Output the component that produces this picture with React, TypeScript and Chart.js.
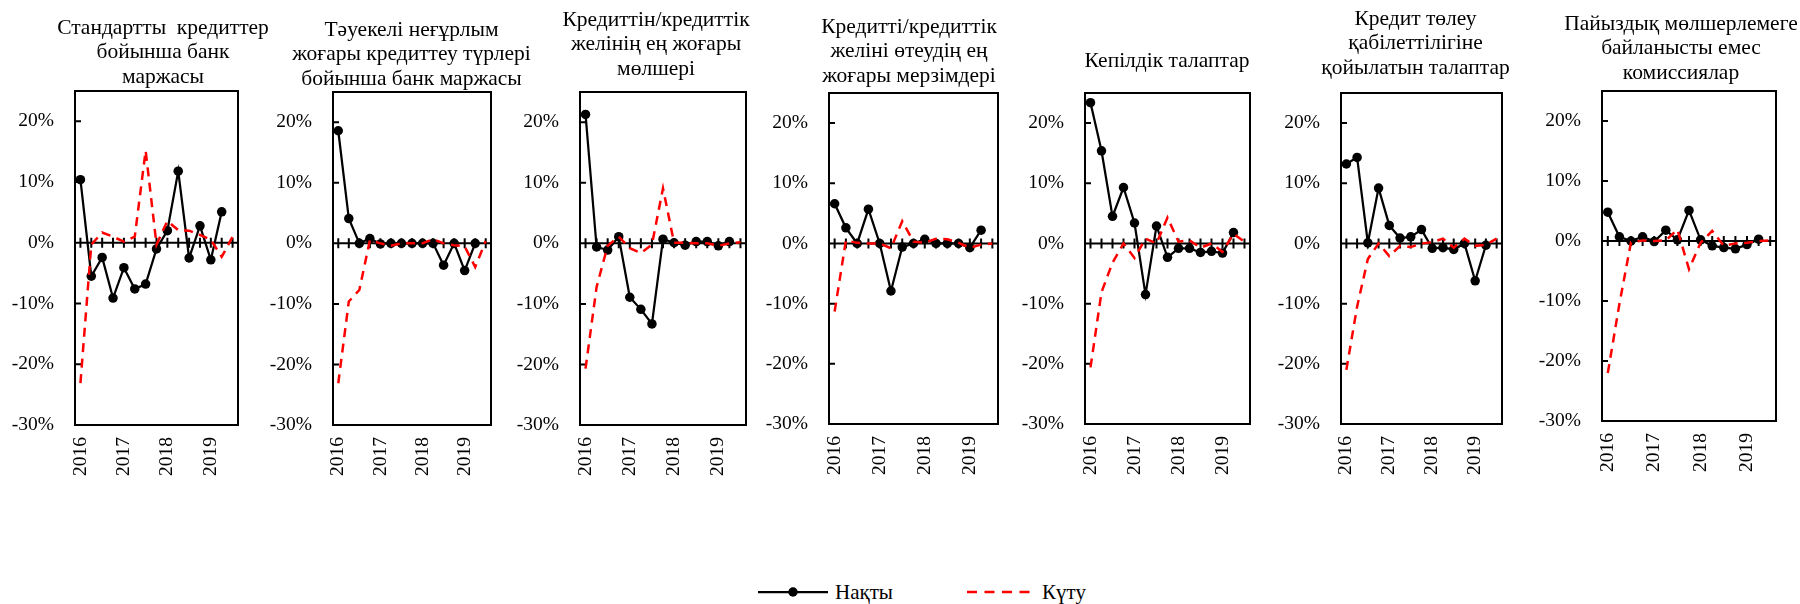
import React, { useEffect, useRef } from 'react';
import { Chart, registerables } from 'chart.js';

Chart.register(...registerables);

// ---------- data ----------
const CATEGORIES = ['2016', '', '', '', '2017', '', '', '', '2018', '', '', '', '2019', '', ''];
const Y_TICKS = [-30, -20, -10, 0, 10, 20];

const TITLE_1 = ['Стандартты  кредиттер', 'бойынша банк', 'маржасы'];
const TITLE_2 = ['Тәуекелі неғұрлым', 'жоғары кредиттеу түрлері', 'бойынша банк маржасы'];
const TITLE_3 = ['Кредиттін/кредиттік', 'желінің ең жоғары', 'мөлшері'];
const TITLE_4 = ['Кредитті/кредиттік', 'желіні өтеудің ең', 'жоғары мерзімдері'];
const TITLE_5 = ['Кепілдік талаптар'];
const TITLE_6 = ['Кредит төлеу', 'қабілеттілігіне', 'қойылатын талаптар'];
const TITLE_7 = ['Пайыздық мөлшерлемеге', 'байланысты емес', 'комиссиялар'];

const ACTUAL_1 = [10.4, -5.5, -2.4, -9.1, -4.1, -7.6, -6.8, -1.0, 2.0, 11.8, -2.5, 2.8, -2.8, 5.1];
const EXPECTED_1 = [-23.1, -0.3, 1.7, 1.0, 0.2, 1.0, 15.2, -0.3, 3.6, 2.1, 2.0, 1.3, 0.5, -2.3, 1.0];

const ACTUAL_2 = [18.6, 4.1, 0, 0.8, -0.1, 0, 0, 0, 0, 0, -3.6, 0, -4.5, 0];
const EXPECTED_2 = [-23.1, -9.6, -7.7, 0.5, 0, -0.4, 0, 0, 0, 0.7, 0, -0.3, -0.5, -3.9, 0.4];

const ACTUAL_3 = [21.3, -0.6, -1.1, 1.1, -8.9, -10.9, -13.3, 0.7, 0.1, -0.3, 0.3, 0.3, -0.4, 0.3];
const EXPECTED_3 = [-20.7, -7.2, -0.4, 1.1, -0.8, -1.6, -0.2, 9.1, 0.1, 0.1, 0, 0, -0.4, 0, 0.2];

const ACTUAL_4 = [6.6, 2.6, 0, 5.7, 0, -7.9, -0.6, 0, 0.7, 0, 0, 0, -0.7, 2.2];
const EXPECTED_4 = [-11.3, 0.5, 0.1, 0, 0, -0.8, 3.7, 0.3, 0.1, 0.8, 0.7, 0.1, -0.7, -0.2, 0];

const ACTUAL_5 = [23.4, 15.4, 4.5, 9.3, 3.4, -8.5, 2.9, -2.3, -0.8, -0.8, -1.5, -1.3, -1.6, 1.8];
const EXPECTED_5 = [-20.6, -8.1, -3.2, 0, -2.4, 0.8, 0, 4.3, 0.3, 0.5, -0.7, 0, -1.4, 1.6, 0.3];

const ACTUAL_6 = [13.2, 14.3, 0.1, 9.2, 3.0, 0.9, 1.1, 2.3, -0.8, -0.7, -1.0, 0, -6.2, -0.3];
const EXPECTED_6 = [-21.0, -10.5, -2.6, 0, -2.1, -0.4, -0.6, 0, 0.2, 0.8, -0.7, 0.8, -0.4, -0.2, 0.8];

const ACTUAL_7 = [4.8, 0.7, 0, 0.7, -0.1, 1.8, 0.2, 5.1, 0.2, -0.8, -1.1, -1.3, -0.6, 0.3];
const EXPECTED_7 = [-22.0, -10.5, -0.2, 0.1, 0, 0.1, 1.9, -4.7, -0.3, 1.7, -0.8, -0.4, -0.3, 0, 0.1];

const SERIES_ACTUAL = 'Нақты';
const SERIES_EXPECTED = 'Күту';

const PANELS = [
  { title: TITLE_1, actual: ACTUAL_1, expected: EXPECTED_1 },
  { title: TITLE_2, actual: ACTUAL_2, expected: EXPECTED_2 },
  { title: TITLE_3, actual: ACTUAL_3, expected: EXPECTED_3 },
  { title: TITLE_4, actual: ACTUAL_4, expected: EXPECTED_4 },
  { title: TITLE_5, actual: ACTUAL_5, expected: EXPECTED_5 },
  { title: TITLE_6, actual: ACTUAL_6, expected: EXPECTED_6 },
  { title: TITLE_7, actual: ACTUAL_7, expected: EXPECTED_7 },
];

// ---------- layout ----------
const BOX_L = [75, 333, 580, 829, 1085, 1341, 1602];
const BOX_R = [238, 491, 746, 998, 1250, 1502, 1776];
const BOX_T = [91, 92, 92, 93, 93, 93, 91];
const BOX_B = [425, 425, 425, 424, 424, 424, 421];
const TITLE_CX = [163, 411.5, 656, 909, 1167, 1415.5, 1681];
const TITLE_FIRST_Y = [28, 30, 20, 27, 61, 19.3, 24];
const Y_AXIS_W = 64;
const PAD_R = 60;
const CANVAS_H = 500;
const FONT_SIZE = 19.5;
const TITLE_FONT_SIZE = 21.5;
const LEGEND_FONT_SIZE = 21;
const LINE_H = 24.5;
const FONT_FAMILY = '"Liberation Serif", "Times New Roman", serif';

function Panel({ index }: { index: number }) {
  const ref = useRef<HTMLCanvasElement | null>(null);
  const left = BOX_L[index] - Y_AXIS_W;
  const width = BOX_R[index] - BOX_L[index] + Y_AXIS_W + PAD_R;

  useEffect(() => {
    const p = PANELS[index];
    const lines = p.title.length;
    const padTop = TITLE_FIRST_Y[index] - LINE_H / 2;
    const padBottom = BOX_T[index] - padTop - lines * LINE_H;
    const font = { family: FONT_FAMILY, size: FONT_SIZE };

    const panelPlugin = {
      id: 'panelFrame',
      afterLayout(chart: any) {
        const tb = chart.titleBlock;
        if (tb) {
          const cx = TITLE_CX[index] - left;
          tb.left = cx - 170;
          tb.right = cx + 170;
        }
      },
      beforeDatasetsDraw(chart: any) {
        const { ctx, chartArea: a, scales } = chart;
        const y0 = scales.y.getPixelForValue(0);
        ctx.save();
        ctx.strokeStyle = '#000';
        ctx.lineWidth = 2;
        ctx.beginPath();
        ctx.moveTo(a.left, y0);
        ctx.lineTo(a.right, y0);
        for (let k = 0; k < CATEGORIES.length; k++) {
          const x = scales.x.getPixelForValue(k);
          ctx.moveTo(x, y0 - 5);
          ctx.lineTo(x, y0 + 5);
        }
        for (const v of Y_TICKS) {
          if (v === 0 || v === -30) continue;
          const y = scales.y.getPixelForValue(v);
          ctx.moveTo(a.left, y);
          ctx.lineTo(a.left + 6, y);
        }
        ctx.stroke();
        ctx.strokeRect(a.left, a.top, a.right - a.left, a.bottom - a.top);
        ctx.restore();
      },
    };

    const chart = new Chart(ref.current as HTMLCanvasElement, {
      type: 'line',
      data: {
        labels: CATEGORIES,
        datasets: [
          {
            label: SERIES_EXPECTED,
            data: p.expected,
            borderColor: '#FF0000',
            borderWidth: 2.5,
            borderDash: [9, 6.5],
            pointRadius: 0,
            fill: false,
            tension: 0,
          },
          {
            label: SERIES_ACTUAL,
            data: p.actual,
            borderColor: '#000000',
            borderWidth: 2.25,
            pointRadius: 4.75,
            pointHoverRadius: 4.75,
            pointBackgroundColor: '#000000',
            pointBorderColor: '#000000',
            pointBorderWidth: 0,
            fill: false,
            tension: 0,
          },
        ],
      },
      options: {
        responsive: false,
        animation: false,
        events: [],
        layout: { padding: { left: 0, right: PAD_R, top: 0, bottom: 0 } },
        plugins: {
          legend: { display: false },
          tooltip: { enabled: false },
          title: {
            display: true,
            text: p.title,
            color: '#000',
            font: { family: FONT_FAMILY, size: TITLE_FONT_SIZE, weight: 'normal', lineHeight: LINE_H / TITLE_FONT_SIZE },
            padding: { top: padTop, bottom: padBottom },
            fullSize: false,
          },
        },
        scales: {
          x: {
            type: 'category',
            offset: true,
            grid: { display: false, drawTicks: false },
            border: { display: false },
            ticks: {
              autoSkip: false,
              minRotation: 90,
              maxRotation: 90,
              padding: 12,
              color: '#000',
              font,
            },
            afterFit: (s: any) => {
              s.height = CANVAS_H - BOX_B[index];
            },
          },
          y: {
            type: 'linear',
            min: -30,
            max: 25,
            grid: { display: false, drawTicks: false },
            border: { display: false },
            ticks: {
              stepSize: 10,
              padding: 21,
              color: '#000',
              font,
              callback: (v: any) => v + '%',
            },
            afterBuildTicks: (ax: any) => {
              ax.ticks = ax.ticks.filter((t: any) => Y_TICKS.includes(t.value));
            },
            afterFit: (s: any) => {
              s.width = Y_AXIS_W;
            },
          },
        },
      },
      plugins: [panelPlugin],
    } as any);
    return () => chart.destroy();
  }, [index]);

  return (
    <canvas
      ref={ref}
      width={width}
      height={CANVAS_H}
      style={{ position: 'absolute', left, top: 0, width, height: CANVAS_H }}
    />
  );
}

function Legend() {
  const text: React.CSSProperties = {
    position: 'absolute',
    top: 579,
    height: 26,
    lineHeight: '26px',
    fontFamily: FONT_FAMILY,
    fontSize: LEGEND_FONT_SIZE,
    color: '#000',
    whiteSpace: 'nowrap',
  };
  return (
    <>
      <svg style={{ position: 'absolute', left: 758, top: 586 }} width={70} height={12}>
        <line x1={0} y1={6} x2={70} y2={6} stroke="#000" strokeWidth={2.25} />
        <circle cx={35} cy={6} r={4.75} fill="#000" />
      </svg>
      <span style={{ ...text, left: 835 }}>{SERIES_ACTUAL}</span>
      <svg style={{ position: 'absolute', left: 967, top: 586 }} width={64} height={12}>
        <line x1={0} y1={6} x2={64} y2={6} stroke="#FF0000" strokeWidth={2.5} strokeDasharray="10 7.5" />
      </svg>
      <span style={{ ...text, left: 1042 }}>{SERIES_EXPECTED}</span>
    </>
  );
}

export default function App() {
  return (
    <div
      style={{
        position: 'absolute',
        left: 0,
        top: 0,
        width: 1800,
        height: 604,
        overflow: 'hidden',
        background: '#fff',
      }}
    >
      {PANELS.map((_, i) => (
        <Panel key={i} index={i} />
      ))}
      <Legend />
    </div>
  );
}
